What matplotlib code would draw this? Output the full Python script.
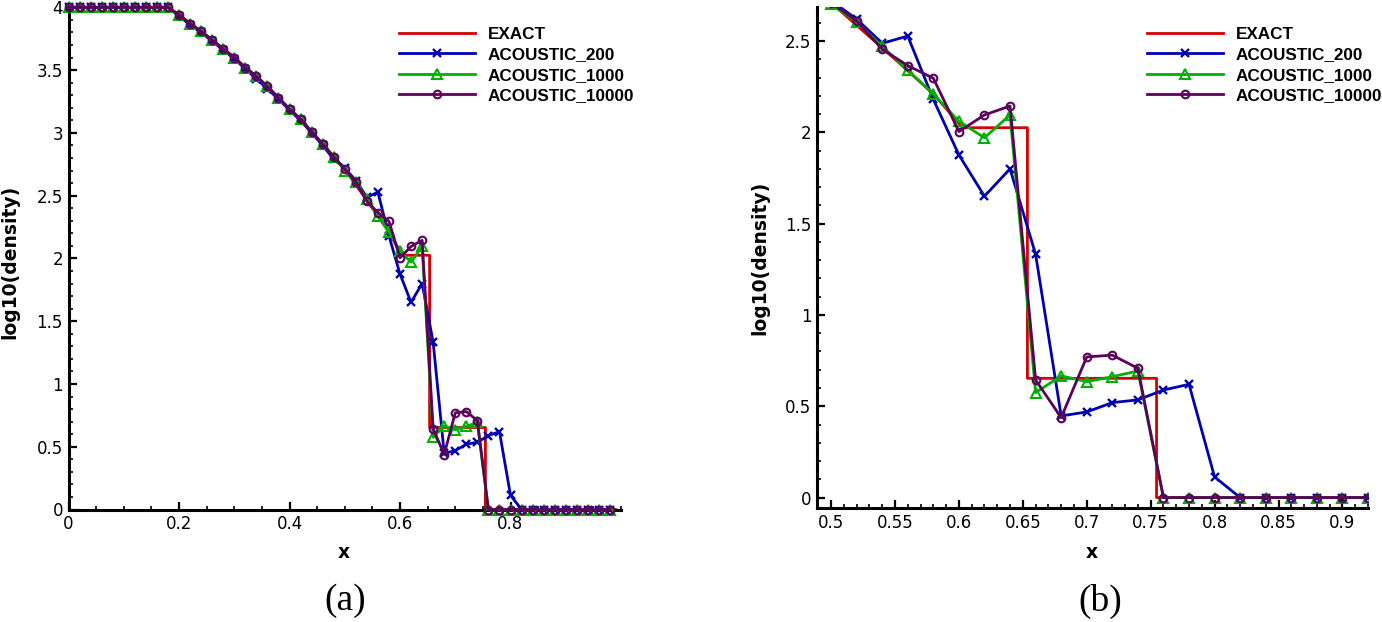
import matplotlib
matplotlib.use('Agg')
import matplotlib.pyplot as plt
from matplotlib.ticker import MultipleLocator

# ---------------- data ----------------
x = [0.00, 0.02, 0.04, 0.06, 0.08, 0.10, 0.12, 0.14, 0.16, 0.18,
     0.20, 0.22, 0.24, 0.26, 0.28, 0.30, 0.32, 0.34, 0.36, 0.38,
     0.40, 0.42, 0.44, 0.46, 0.48, 0.50, 0.52, 0.54, 0.56, 0.58,
     0.60, 0.62, 0.64, 0.66, 0.68, 0.70, 0.72, 0.74, 0.76, 0.78,
     0.80, 0.82, 0.84, 0.86, 0.88, 0.90, 0.92, 0.94, 0.96, 0.98]

exact_x = [0.0, 0.18, 0.20, 0.25, 0.30, 0.35, 0.40, 0.45, 0.50, 0.55, 0.58,
           0.603, 0.6536, 0.6536, 0.7546, 0.7546, 0.99]
exact_y = [4.0, 4.0, 3.94, 3.77, 3.60, 3.41, 3.19, 2.96, 2.71, 2.40, 2.21,
           2.025, 2.025, 0.653, 0.653, 0.0, 0.0]

acoustic_200 = [4.0, 4.0, 4.0, 4.0, 4.0, 4.0, 4.0, 4.0, 4.0, 4.0,
                3.93, 3.86, 3.80, 3.73, 3.66, 3.59, 3.51, 3.43, 3.35, 3.27,
                3.18, 3.10, 3.00, 2.90, 2.79, 2.72, 2.62, 2.487, 2.527, 2.18,
                1.876, 1.65, 1.80, 1.332, 0.447, 0.469, 0.52, 0.535, 0.589, 0.62,
                0.113, 0.0, 0.0, 0.0, 0.0, 0.0, 0.0, 0.0, 0.0, 0.0]

acoustic_1000 = [4.0, 4.0, 4.0, 4.0, 4.0, 4.0, 4.0, 4.0, 4.0, 4.0,
                 3.94, 3.87, 3.81, 3.74, 3.67, 3.60, 3.52, 3.45, 3.37, 3.28,
                 3.19, 3.11, 3.01, 2.91, 2.81, 2.70, 2.605, 2.47, 2.34, 2.21,
                 2.06, 1.97, 2.095, 0.575, 0.666, 0.635, 0.662, 0.693, 0.0, 0.0,
                 0.0, 0.0, 0.0, 0.0, 0.0, 0.0, 0.0, 0.0, 0.0, 0.0]

acoustic_10000 = [4.0, 4.0, 4.0, 4.0, 4.0, 4.0, 4.0, 4.0, 4.0, 4.0,
                  3.94, 3.87, 3.81, 3.74, 3.67, 3.60, 3.52, 3.45, 3.37, 3.28,
                  3.19, 3.11, 3.01, 2.91, 2.81, 2.71, 2.61, 2.455, 2.365, 2.296,
                  2.004, 2.095, 2.144, 0.644, 0.438, 0.77, 0.78, 0.708, 0.0, 0.0,
                  0.0, 0.0, 0.0, 0.0, 0.0, 0.0, 0.0, 0.0, 0.0, 0.0]

labels = ['EXACT', 'ACOUSTIC_200', 'ACOUSTIC_1000', 'ACOUSTIC_10000']
panel_tags = ['(a)', '(b)']

# ---------------- style ----------------
RED = '#d40000'
BLUE = '#0000b0'
GREEN = '#00b000'
PURPLE = '#5c005c'

W, H = 1382, 622
fig = plt.figure(figsize=(W / 100, H / 100), dpi=100)


def px_axes(l, t, r, b):
    return fig.add_axes([l / W, 1 - b / H, (r - l) / W, (b - t) / H])


def draw(ax, clip):
    h0, = ax.plot(exact_x, exact_y, color=RED, lw=2.0, clip_on=clip, zorder=2)
    h1, = ax.plot(x, acoustic_200, color=BLUE, lw=2.0, marker='x', ms=5.5,
                  mew=1.7, clip_on=clip, zorder=3)
    h2, = ax.plot(x, acoustic_1000, color=GREEN, lw=2.0, marker='^', ms=6.5,
                  mew=1.5, mfc='none', clip_on=clip, zorder=4)
    h3, = ax.plot(x, acoustic_10000, color=PURPLE, lw=2.0, marker='o', ms=5.5,
                  mew=1.5, mfc='none', clip_on=clip, zorder=5)
    return [h0, h1, h2, h3]


def style(ax, xmaj, xmin, ymaj, ymin):
    for s in ['top', 'right']:
        ax.spines[s].set_visible(False)
    for s in ['left', 'bottom']:
        ax.spines[s].set_linewidth(2.2)
    ax.xaxis.set_major_locator(MultipleLocator(xmaj))
    ax.xaxis.set_minor_locator(MultipleLocator(xmin))
    ax.yaxis.set_major_locator(MultipleLocator(ymaj))
    ax.yaxis.set_minor_locator(MultipleLocator(ymin))
    ax.tick_params(which='major', direction='in', length=6, width=1.6,
                   labelsize=12, pad=4)
    ax.tick_params(which='minor', direction='in', length=3.2, width=1.2)
    for lab in ax.get_xticklabels() + ax.get_yticklabels():
        lab.set_family('DejaVu Sans')


def fmt(v, pos):
    s = ('%.2f' % v).rstrip('0').rstrip('.')
    return '0' if s in ('-0', '') else s


# ---- panel (a) ----
ax1 = px_axes(68.5, 7.3, 621, 509.5)
handles = draw(ax1, False)
ax1.set_xlim(0, 1.0)
ax1.set_ylim(0, 4.0)
style(ax1, 0.2, 0.05, 0.5, 0.1)
ax1.xaxis.set_major_formatter(plt.FuncFormatter(fmt))
ax1.yaxis.set_major_formatter(plt.FuncFormatter(fmt))
ax1.set_xticks([0, 0.2, 0.4, 0.6, 0.8])

# ---- panel (b) ----
ax2 = px_axes(817, 7, 1368, 508)
draw(ax2, True)
ax2.set_xlim(0.489, 0.92)
ax2.set_ylim(-0.057, 2.686)
style(ax2, 0.05, 0.01, 0.5, 0.1)
ax2.xaxis.set_major_formatter(plt.FuncFormatter(fmt))
ax2.yaxis.set_major_formatter(plt.FuncFormatter(fmt))

# ---- legends ----
for ax, lx in [(ax1, 399), (ax2, 1147)]:
    ax.legend(handles, labels, loc='upper left',
              bbox_to_anchor=(lx / W, 1 - 27 / H), bbox_transform=fig.transFigure,
              frameon=False, numpoints=1, handlelength=4.45, handletextpad=0.75,
              labelspacing=0.32, borderpad=0, borderaxespad=0,
              prop={'family': 'Liberation Sans', 'weight': 'bold', 'size': 12.3})

# ---- axis labels and panel tags ----
lab_kw = dict(family='DejaVu Sans', weight='bold', size=13.5, ha='center', va='center')
fig.text(10 / W, 1 - 262 / H, 'log10(density)', rotation=90, **lab_kw)
fig.text(760 / W, 1 - 258 / H, 'log10(density)', rotation=90, **lab_kw)
fig.text(344 / W, 1 - 553 / H, 'x', **lab_kw)
fig.text(1092 / W, 1 - 553 / H, 'x', **lab_kw)
tag_kw = dict(family='Liberation Serif', size=27, ha='center', va='center')
fig.text(345 / W, 1 - 601 / H, panel_tags[0], **tag_kw)
fig.text(1100 / W, 1 - 601 / H, panel_tags[1], **tag_kw)

fig.savefig('out.png', dpi=100)
